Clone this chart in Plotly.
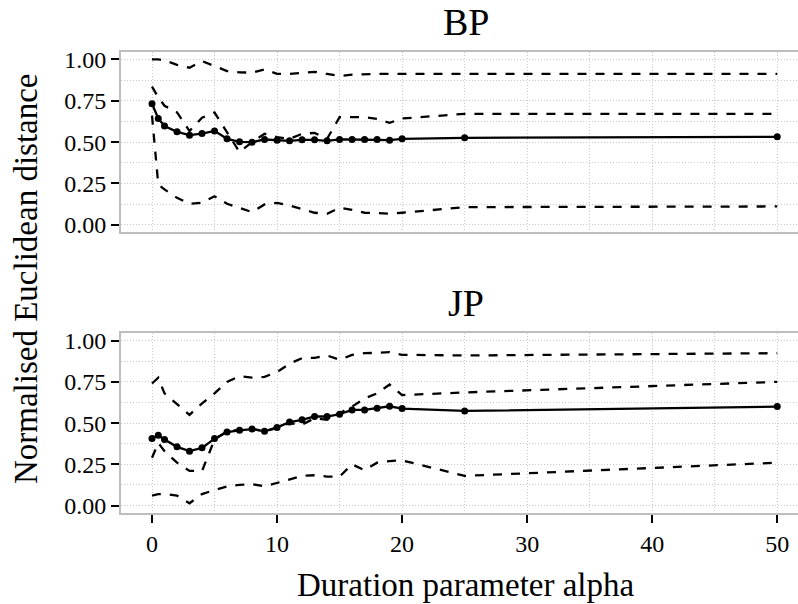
import plotly.graph_objects as go

# ---- data ----
alpha = [0, 0.5, 1, 2, 3, 4, 5, 6, 7, 8, 9, 10, 11, 12, 13, 14, 15, 16, 17, 18, 19, 20, 25, 50]

bp_mean = [0.732, 0.643, 0.597, 0.562, 0.542, 0.552, 0.568, 0.520, 0.502, 0.500, 0.516, 0.512,
           0.508, 0.514, 0.514, 0.508, 0.516, 0.516, 0.516, 0.516, 0.512, 0.520, 0.526, 0.532]
bp_upper = [1.0, 1.0, 0.995, 0.967, 0.95, 0.99, 0.96, 0.93, 0.922, 0.92, 0.94, 0.913,
            0.913, 0.918, 0.925, 0.912, 0.90, 0.908, 0.912, 0.913, 0.913, 0.913, 0.913, 0.913]
bp_mid = [0.836, 0.77, 0.72, 0.68, 0.567, 0.648, 0.679, 0.56, 0.44, 0.50, 0.55, 0.53,
          0.52, 0.55, 0.556, 0.52, 0.651, 0.651, 0.651, 0.64, 0.617, 0.643, 0.671, 0.671]
bp_lower = [0.66, 0.244, 0.214, 0.163, 0.127, 0.133, 0.173, 0.127, 0.103, 0.077, 0.123, 0.133,
            0.117, 0.093, 0.073, 0.067, 0.103, 0.09, 0.073, 0.071, 0.067, 0.073, 0.107, 0.111]

jp_mean = [0.406, 0.426, 0.400, 0.356, 0.330, 0.350, 0.406, 0.446, 0.456, 0.464, 0.450, 0.474,
           0.506, 0.520, 0.540, 0.540, 0.554, 0.580, 0.580, 0.590, 0.602, 0.588, 0.574, 0.600]
jp_upper = [0.74, 0.775, 0.68, 0.616, 0.55, 0.62, 0.68, 0.75, 0.784, 0.776, 0.78, 0.81,
            0.86, 0.894, 0.896, 0.91, 0.884, 0.914, 0.924, 0.926, 0.93, 0.914, 0.91, 0.924]
jp_mid = [0.29, 0.38, 0.33, 0.26, 0.21, 0.21, 0.40, 0.45, 0.46, 0.465, 0.45, 0.47,
          0.50, 0.49, 0.53, 0.52, 0.56, 0.60, 0.65, 0.68, 0.734, 0.67, 0.686, 0.75]
jp_lower = [0.06, 0.07, 0.07, 0.06, 0.014, 0.07, 0.094, 0.116, 0.126, 0.13, 0.116, 0.136,
            0.156, 0.18, 0.184, 0.176, 0.176, 0.25, 0.214, 0.26, 0.27, 0.274, 0.18, 0.26]

panel_titles = ["BP", "JP"]
x_title = "Duration parameter alpha"
y_title = "Normalised Euclidean distance"

FONT = "Liberation Serif"
GRID = "#C8C8C8"
BORDER = "#BEBEBE"

fig = go.Figure()

panels = [
    (bp_mean, bp_upper, bp_mid, bp_lower, "x", "y"),
    (jp_mean, jp_upper, jp_mid, jp_lower, "x2", "y2"),
]
for mean, up, mid, lo, xa, ya in panels:
    for q in (up, mid, lo):
        fig.add_trace(go.Scatter(x=alpha, y=q, mode="lines", xaxis=xa, yaxis=ya,
                                 line=dict(color="black", width=2.3, dash="dash"),
                                 showlegend=False, hoverinfo="skip"))
    fig.add_trace(go.Scatter(x=alpha, y=mean, mode="lines+markers", xaxis=xa, yaxis=ya,
                             line=dict(color="black", width=2.3),
                             marker=dict(color="black", size=7),
                             showlegend=False))

xrange = [-2.48, 51.66]
yrange = [-0.045, 1.045]

def xaxis_cfg(show_ticks):
    return dict(
        range=xrange, dtick=10, tick0=0,
        showticklabels=show_ticks, ticks="outside" if show_ticks else "",
        ticklen=8, tickwidth=2, tickcolor="black",
        showline=True, mirror=True, linecolor=BORDER, linewidth=2,
        showgrid=True, gridcolor=GRID, griddash="1px,2px", gridwidth=1,
        minor=dict(dtick=5, tick0=0, showgrid=True, gridcolor=GRID, griddash="1px,2px", gridwidth=1),
        zeroline=False, automargin=False,
        tickfont=dict(family=FONT, size=24, color="black"),
    )

def yaxis_cfg(domain, anchor):
    return dict(
        domain=domain, anchor=anchor, range=yrange, dtick=0.25, tick0=0, tickformat=".2f",
        ticks="outside", ticklen=8, tickwidth=2, tickcolor="black",
        showline=True, mirror=False, linecolor=BORDER, linewidth=2,
        showgrid=True, gridcolor=GRID, griddash="1px,2px", gridwidth=1,
        minor=dict(dtick=0.125, tick0=0, showgrid=True, gridcolor=GRID, griddash="1px,2px", gridwidth=1),
        zeroline=False, automargin=False,
        tickfont=dict(family=FONT, size=24, color="black"),
    )

top_dom = [0.609, 1.0]
bot_dom = [0.0, 0.390]

fig.update_layout(
    width=798, height=604,
    margin=dict(l=121, r=0, t=52, b=91),
    paper_bgcolor="white", plot_bgcolor="white",
    font=dict(family=FONT, color="black"),
    xaxis=dict(anchor="y", domain=[0, 1], matches="x2", **xaxis_cfg(False)),
    yaxis=yaxis_cfg(top_dom, "x"),
    xaxis2=dict(anchor="y2", domain=[0, 1], **xaxis_cfg(True)),
    yaxis2=yaxis_cfg(bot_dom, "x2"),
)

annots = [
    dict(text=panel_titles[0], xref="paper", yref="paper", x=0.509, y=top_dom[1],
         xanchor="center", yanchor="bottom", yshift=7, showarrow=False,
         font=dict(family=FONT, size=38, color="black")),
    dict(text=panel_titles[1], xref="paper", yref="paper", x=0.509, y=bot_dom[1],
         xanchor="center", yanchor="bottom", yshift=7, showarrow=False,
         font=dict(family=FONT, size=38, color="black")),
    dict(text=x_title, xref="paper", yref="paper", x=0.509, y=0,
         xanchor="center", yanchor="bottom", yshift=-92, showarrow=False,
         font=dict(family=FONT, size=33, color="black")),
    dict(text=y_title, xref="paper", yref="paper", x=-0.1403, y=0.5076,
         xanchor="center", yanchor="middle", textangle=-90, showarrow=False,
         font=dict(family=FONT, size=33, color="black")),
]
fig.update_layout(annotations=annots)

# remove the default 8px page margin so the figure fills the window exactly
fig.write_html("out.html", config={"displayModeBar": False},
               post_script="document.body.style.margin='0px';")
